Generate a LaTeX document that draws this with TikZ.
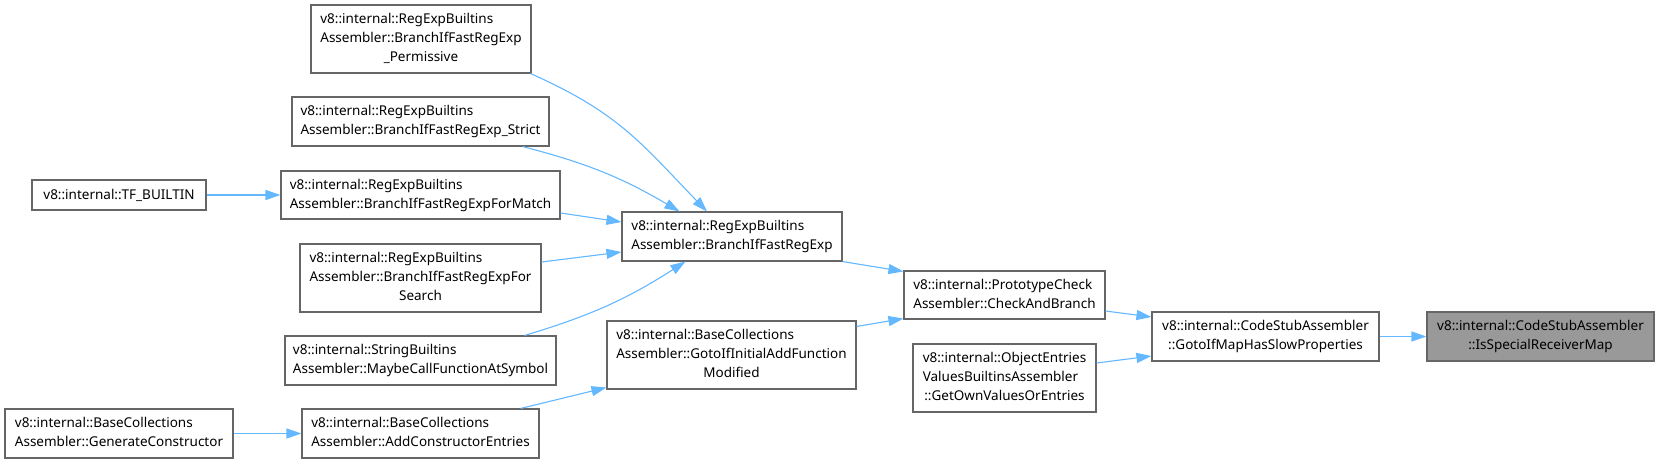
\documentclass[tikz,border=0pt]{standalone}
\usepackage{fontspec}
\setmainfont{Noto Sans}
\usetikzlibrary{arrows.meta}
\definecolor{edgeblue}{HTML}{63B8FF}
\definecolor{boxgray}{HTML}{666666}
\definecolor{hlfill}{HTML}{999999}
\newcommand{\boxlines}[2]{\begin{tabular}{@{}l@{}}#1\\\multicolumn{1}{@{}c@{}}{#2}\end{tabular}}
\begin{document}
\begin{tikzpicture}[x=1pt,y=-1pt,
  box/.style={draw=boxgray, line width=1.1pt, fill=white, inner sep=0pt,
    font=\fontsize{13.5}{19}\selectfont, text=black},
  hl/.style={box, fill=hlfill},
  edge/.style={draw=edgeblue, line width=1.1pt, -{Triangle[length=15pt,width=10pt]}}]
\useasboundingbox (0,0) rectangle (1659,464);
\fill[white] (0,0) rectangle (1659,464);
\node[box, minimum width=220pt, minimum height=68pt] (perm) at (421,39)
  {\boxlines{v8::internal::RegExpBuiltins\\Assembler::BranchIfFastRegExp}{\_Permissive}};
\node[box, minimum width=257pt, minimum height=49pt] (strict) at (420.5,121.5)
  {\boxlines{v8::internal::RegExpBuiltins}{Assembler::BranchIfFastRegExp\_Strict}};
\node[box, minimum width=279pt, minimum height=48pt] (match) at (420.5,195)
  {\boxlines{v8::internal::RegExpBuiltins}{Assembler::BranchIfFastRegExpForMatch}};
\node[box, minimum width=174pt, minimum height=30pt] (tf) at (119,195)
  {v8::internal::TF\_BUILTIN};
\node[box, minimum width=241pt, minimum height=68pt] (search) at (420.5,278)
  {\boxlines{v8::internal::RegExpBuiltins\\Assembler::BranchIfFastRegExpFor}{Search}};
\node[box, minimum width=271pt, minimum height=49pt] (maybe) at (420.5,360.5)
  {\boxlines{v8::internal::StringBuiltins}{Assembler::MaybeCallFunctionAtSymbol}};
\node[box, minimum width=228pt, minimum height=49pt] (gen) at (119,433.5)
  {\boxlines{v8::internal::BaseCollections}{Assembler::GenerateConstructor}};
\node[box, minimum width=237pt, minimum height=49pt] (add) at (420.5,433.5)
  {\boxlines{v8::internal::BaseCollections}{Assembler::AddConstructorEntries}};
\node[box, minimum width=220pt, minimum height=49pt] (branch) at (732,236.5)
  {\boxlines{v8::internal::RegExpBuiltins}{Assembler::BranchIfFastRegExp}};
\node[box, minimum width=249pt, minimum height=68pt] (gotoinit) at (731.5,355)
  {\boxlines{v8::internal::BaseCollections\\Assembler::GotoIfInitialAddFunction}{Modified}};
\node[box, minimum width=201pt, minimum height=48pt] (proto) at (1004.5,295)
  {\boxlines{v8::internal::PrototypeCheck}{Assembler::CheckAndBranch}};
\node[box, minimum width=183pt, minimum height=68pt] (objent) at (1004.5,378)
  {\boxlines{v8::internal::ObjectEntries\\ValuesBuiltinsAssembler}{::GetOwnValuesOrEntries}};
\node[box, minimum width=227pt, minimum height=49pt] (gotomap) at (1265.5,336.5)
  {\boxlines{v8::internal::CodeStubAssembler}{::GotoIfMapHasSlowProperties}};
\node[hl, minimum width=227pt, minimum height=49pt] (special) at (1540.5,336.5)
  {\boxlines{v8::internal::CodeStubAssembler}{::IsSpecialReceiverMap}};
% edges
\draw[edge] (tf.east) -- (match.west);
\draw[edge] (gen.east) -- (add.west);
\draw[edge] ([xshift=-1pt]perm.south east) to[out=-24,in=134,looseness=1.1] ([xshift=-25pt]branch.north);
\draw[edge] ([xshift=-27pt]strict.south east) to[bend left=8] ([xshift=58pt]branch.north west);
\draw[edge] ([yshift=-18pt]match.east) -- ([yshift=14.5pt]branch.west);
\draw[edge] ([yshift=16pt]search.east) -- ([yshift=-15.5pt]branch.west);
\draw[edge] ([xshift=-32pt]maybe.north east) to[bend right=8] ([xshift=64pt]branch.south west);
\draw[edge] ([xshift=-19pt]add.north east) -- ([yshift=2pt]gotoinit.south west);
\draw[edge] (branch.south east) -- ([yshift=-1pt]proto.north west);
\draw[edge] ([yshift=-6pt]gotoinit.north east) -- ([yshift=1pt]proto.south west);
\draw[edge] ([yshift=-16pt]proto.east) -- ([yshift=19.5pt]gotomap.west);
\draw[edge] ([yshift=15pt]objent.east) -- ([yshift=-19.5pt]gotomap.west);
\draw[edge] (gotomap.east) -- (special.west);
\end{tikzpicture}
\end{document}
